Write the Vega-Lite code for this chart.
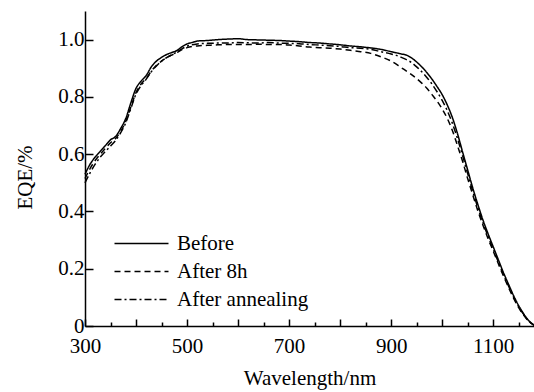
{
  "$schema": "https://vega.github.io/schema/vega-lite/v6.json",
  "autosize": {"type": "none"},
  "padding": {"left": 85, "top": 11, "right": 0, "bottom": 66},
  "width": 449,
  "height": 315,
  "background": "white",
  "config": {
    "font": "Liberation Serif, Times New Roman, serif",
    "view": {"stroke": null},
    "axis": {
      "domainColor": "black", "domainWidth": 1.5, "tickColor": "black", "tickWidth": 1.5,
      "labelColor": "black", "labelFontSize": 21, "titleFontSize": 21, "titleFontWeight": "normal",
      "labelFont": "Liberation Serif, Times New Roman, serif", "titleFont": "Liberation Serif, Times New Roman, serif",
      "titleColor": "black", "grid": false
    },
    "legend": {
      "labelFont": "Liberation Serif, Times New Roman, serif",
      "labelFontSize": 21, "labelColor": "black", "symbolType": "M-5,0H1", "symbolSize": 324,
      "symbolStrokeWidth": 1.5, "symbolStrokeColor": "black", "symbolFillColor": "transparent", "labelOffset": 7, "rowPadding": 6
    }
  },
  "datasets": {
    "curves": [
      {"x":300,"y":0.53,"s":"Before"},{"x":310,"y":0.565,"s":"Before"},{"x":320,"y":0.59,"s":"Before"},{"x":330,"y":0.61,"s":"Before"},{"x":340,"y":0.63,"s":"Before"},{"x":350,"y":0.65,"s":"Before"},{"x":360,"y":0.662,"s":"Before"},{"x":370,"y":0.69,"s":"Before"},{"x":380,"y":0.725,"s":"Before"},{"x":390,"y":0.78,"s":"Before"},{"x":400,"y":0.83,"s":"Before"},{"x":410,"y":0.855,"s":"Before"},{"x":420,"y":0.875,"s":"Before"},{"x":430,"y":0.905,"s":"Before"},{"x":440,"y":0.925,"s":"Before"},{"x":450,"y":0.938,"s":"Before"},{"x":460,"y":0.948,"s":"Before"},{"x":470,"y":0.955,"s":"Before"},{"x":480,"y":0.962,"s":"Before"},{"x":490,"y":0.975,"s":"Before"},{"x":500,"y":0.985,"s":"Before"},{"x":510,"y":0.99,"s":"Before"},{"x":520,"y":0.995,"s":"Before"},{"x":540,"y":0.997,"s":"Before"},{"x":560,"y":1.0,"s":"Before"},{"x":580,"y":1.002,"s":"Before"},{"x":600,"y":1.003,"s":"Before"},{"x":620,"y":1.0,"s":"Before"},{"x":640,"y":0.999,"s":"Before"},{"x":660,"y":0.998,"s":"Before"},{"x":680,"y":0.997,"s":"Before"},{"x":700,"y":0.995,"s":"Before"},{"x":720,"y":0.993,"s":"Before"},{"x":740,"y":0.99,"s":"Before"},{"x":760,"y":0.988,"s":"Before"},{"x":780,"y":0.985,"s":"Before"},{"x":800,"y":0.982,"s":"Before"},{"x":820,"y":0.978,"s":"Before"},{"x":840,"y":0.975,"s":"Before"},{"x":860,"y":0.971,"s":"Before"},{"x":880,"y":0.966,"s":"Before"},{"x":900,"y":0.958,"s":"Before"},{"x":910,"y":0.954,"s":"Before"},{"x":920,"y":0.95,"s":"Before"},{"x":930,"y":0.946,"s":"Before"},{"x":940,"y":0.936,"s":"Before"},{"x":950,"y":0.922,"s":"Before"},{"x":960,"y":0.905,"s":"Before"},{"x":970,"y":0.885,"s":"Before"},{"x":980,"y":0.862,"s":"Before"},{"x":990,"y":0.836,"s":"Before"},{"x":1000,"y":0.808,"s":"Before"},{"x":1010,"y":0.772,"s":"Before"},{"x":1020,"y":0.728,"s":"Before"},{"x":1030,"y":0.672,"s":"Before"},{"x":1040,"y":0.608,"s":"Before"},{"x":1050,"y":0.545,"s":"Before"},{"x":1060,"y":0.482,"s":"Before"},{"x":1070,"y":0.424,"s":"Before"},{"x":1080,"y":0.37,"s":"Before"},{"x":1090,"y":0.322,"s":"Before"},{"x":1100,"y":0.277,"s":"Before"},{"x":1110,"y":0.232,"s":"Before"},{"x":1120,"y":0.187,"s":"Before"},{"x":1130,"y":0.146,"s":"Before"},{"x":1140,"y":0.106,"s":"Before"},{"x":1150,"y":0.071,"s":"Before"},{"x":1160,"y":0.042,"s":"Before"},{"x":1170,"y":0.018,"s":"Before"},{"x":1180,"y":0.003,"s":"Before"},

      {"x":300,"y":0.515,"s":"After 8h"},{"x":310,"y":0.55,"s":"After 8h"},{"x":320,"y":0.578,"s":"After 8h"},{"x":330,"y":0.6,"s":"After 8h"},{"x":340,"y":0.62,"s":"After 8h"},{"x":350,"y":0.64,"s":"After 8h"},{"x":360,"y":0.655,"s":"After 8h"},{"x":370,"y":0.68,"s":"After 8h"},{"x":380,"y":0.715,"s":"After 8h"},{"x":390,"y":0.765,"s":"After 8h"},{"x":400,"y":0.815,"s":"After 8h"},{"x":410,"y":0.845,"s":"After 8h"},{"x":420,"y":0.865,"s":"After 8h"},{"x":430,"y":0.89,"s":"After 8h"},{"x":440,"y":0.91,"s":"After 8h"},{"x":450,"y":0.925,"s":"After 8h"},{"x":460,"y":0.937,"s":"After 8h"},{"x":470,"y":0.946,"s":"After 8h"},{"x":480,"y":0.955,"s":"After 8h"},{"x":490,"y":0.965,"s":"After 8h"},{"x":500,"y":0.972,"s":"After 8h"},{"x":520,"y":0.978,"s":"After 8h"},{"x":540,"y":0.98,"s":"After 8h"},{"x":560,"y":0.982,"s":"After 8h"},{"x":580,"y":0.983,"s":"After 8h"},{"x":600,"y":0.983,"s":"After 8h"},{"x":620,"y":0.983,"s":"After 8h"},{"x":640,"y":0.984,"s":"After 8h"},{"x":660,"y":0.983,"s":"After 8h"},{"x":680,"y":0.983,"s":"After 8h"},{"x":700,"y":0.981,"s":"After 8h"},{"x":720,"y":0.978,"s":"After 8h"},{"x":740,"y":0.974,"s":"After 8h"},{"x":760,"y":0.972,"s":"After 8h"},{"x":780,"y":0.97,"s":"After 8h"},{"x":800,"y":0.967,"s":"After 8h"},{"x":820,"y":0.963,"s":"After 8h"},{"x":840,"y":0.958,"s":"After 8h"},{"x":860,"y":0.952,"s":"After 8h"},{"x":880,"y":0.94,"s":"After 8h"},{"x":900,"y":0.925,"s":"After 8h"},{"x":920,"y":0.902,"s":"After 8h"},{"x":940,"y":0.878,"s":"After 8h"},{"x":960,"y":0.848,"s":"After 8h"},{"x":970,"y":0.83,"s":"After 8h"},{"x":980,"y":0.808,"s":"After 8h"},{"x":990,"y":0.785,"s":"After 8h"},{"x":1000,"y":0.758,"s":"After 8h"},{"x":1010,"y":0.725,"s":"After 8h"},{"x":1020,"y":0.683,"s":"After 8h"},{"x":1030,"y":0.63,"s":"After 8h"},{"x":1040,"y":0.575,"s":"After 8h"},{"x":1050,"y":0.515,"s":"After 8h"},{"x":1060,"y":0.458,"s":"After 8h"},{"x":1070,"y":0.402,"s":"After 8h"},{"x":1080,"y":0.352,"s":"After 8h"},{"x":1090,"y":0.305,"s":"After 8h"},{"x":1100,"y":0.262,"s":"After 8h"},{"x":1110,"y":0.218,"s":"After 8h"},{"x":1120,"y":0.175,"s":"After 8h"},{"x":1130,"y":0.135,"s":"After 8h"},{"x":1140,"y":0.097,"s":"After 8h"},{"x":1150,"y":0.064,"s":"After 8h"},{"x":1160,"y":0.037,"s":"After 8h"},{"x":1170,"y":0.016,"s":"After 8h"},{"x":1180,"y":0.003,"s":"After 8h"},

      {"x":300,"y":0.5,"s":"After annealing"},{"x":310,"y":0.535,"s":"After annealing"},{"x":320,"y":0.565,"s":"After annealing"},{"x":330,"y":0.59,"s":"After annealing"},{"x":340,"y":0.61,"s":"After annealing"},{"x":350,"y":0.628,"s":"After annealing"},{"x":360,"y":0.648,"s":"After annealing"},{"x":370,"y":0.675,"s":"After annealing"},{"x":380,"y":0.71,"s":"After annealing"},{"x":390,"y":0.76,"s":"After annealing"},{"x":400,"y":0.81,"s":"After annealing"},{"x":410,"y":0.84,"s":"After annealing"},{"x":420,"y":0.862,"s":"After annealing"},{"x":430,"y":0.888,"s":"After annealing"},{"x":440,"y":0.908,"s":"After annealing"},{"x":450,"y":0.925,"s":"After annealing"},{"x":460,"y":0.937,"s":"After annealing"},{"x":470,"y":0.947,"s":"After annealing"},{"x":480,"y":0.957,"s":"After annealing"},{"x":490,"y":0.968,"s":"After annealing"},{"x":500,"y":0.977,"s":"After annealing"},{"x":520,"y":0.985,"s":"After annealing"},{"x":540,"y":0.987,"s":"After annealing"},{"x":560,"y":0.988,"s":"After annealing"},{"x":580,"y":0.988,"s":"After annealing"},{"x":600,"y":0.99,"s":"After annealing"},{"x":620,"y":0.989,"s":"After annealing"},{"x":640,"y":0.988,"s":"After annealing"},{"x":660,"y":0.99,"s":"After annealing"},{"x":680,"y":0.988,"s":"After annealing"},{"x":700,"y":0.987,"s":"After annealing"},{"x":720,"y":0.986,"s":"After annealing"},{"x":740,"y":0.983,"s":"After annealing"},{"x":760,"y":0.981,"s":"After annealing"},{"x":780,"y":0.979,"s":"After annealing"},{"x":800,"y":0.976,"s":"After annealing"},{"x":820,"y":0.972,"s":"After annealing"},{"x":840,"y":0.97,"s":"After annealing"},{"x":860,"y":0.966,"s":"After annealing"},{"x":880,"y":0.958,"s":"After annealing"},{"x":900,"y":0.95,"s":"After annealing"},{"x":910,"y":0.945,"s":"After annealing"},{"x":920,"y":0.938,"s":"After annealing"},{"x":930,"y":0.93,"s":"After annealing"},{"x":940,"y":0.92,"s":"After annealing"},{"x":950,"y":0.905,"s":"After annealing"},{"x":960,"y":0.888,"s":"After annealing"},{"x":970,"y":0.868,"s":"After annealing"},{"x":980,"y":0.845,"s":"After annealing"},{"x":990,"y":0.818,"s":"After annealing"},{"x":1000,"y":0.788,"s":"After annealing"},{"x":1010,"y":0.752,"s":"After annealing"},{"x":1020,"y":0.708,"s":"After annealing"},{"x":1030,"y":0.655,"s":"After annealing"},{"x":1040,"y":0.595,"s":"After annealing"},{"x":1050,"y":0.532,"s":"After annealing"},{"x":1060,"y":0.47,"s":"After annealing"},{"x":1070,"y":0.413,"s":"After annealing"},{"x":1080,"y":0.36,"s":"After annealing"},{"x":1090,"y":0.313,"s":"After annealing"},{"x":1100,"y":0.268,"s":"After annealing"},{"x":1110,"y":0.224,"s":"After annealing"},{"x":1120,"y":0.18,"s":"After annealing"},{"x":1130,"y":0.14,"s":"After annealing"},{"x":1140,"y":0.101,"s":"After annealing"},{"x":1150,"y":0.067,"s":"After annealing"},{"x":1160,"y":0.04,"s":"After annealing"},{"x":1170,"y":0.017,"s":"After annealing"},{"x":1180,"y":0.003,"s":"After annealing"}
    ]
  },
  "layer": [
    {
      "data": {"name": "curves"},
      "mark": {"type": "line", "color": "black", "strokeWidth": 1.5, "interpolate": "monotone"},
      "encoding": {
        "x": {
          "field": "x", "type": "quantitative",
          "scale": {"domain": [300, 1180], "nice": false, "zero": false},
          "axis": {
            "title": "Wavelength/nm",
            "values": [300,350,400,450,500,550,600,650,700,750,800,850,900,950,1000,1050,1100,1150],
            "labelExpr": "(datum.value - 300) % 200 === 0 ? datum.value : ''",
            "tickSize": {"condition": {"test": "datum.value % 100 === 0", "value": -7}, "value": -4},
            "labelPadding": 16,
            "titlePadding": 11,
            "labelFlush": false
          }
        },
        "y": {
          "field": "y", "type": "quantitative",
          "scale": {"domain": [0, 1.1], "nice": false},
          "axis": {
            "title": "EQE/%",
            "values": [0,0.1,0.2,0.3,0.4,0.5,0.6,0.7,0.8,0.9,1.0],
            "labelExpr": "datum.value === 0 ? '0' : (round(datum.value*10) % 2 === 0 ? format(datum.value, '.1f') : '')",
            "tickSize": {"condition": {"test": "round(datum.value*10) % 2 === 0", "value": -8}, "value": -5},
            "labelPadding": 9,
            "titlePadding": 22,
            "titleY": 166,
            "labelFlush": false
          }
        },
        "strokeDash": {
          "field": "s", "type": "nominal",
          "scale": {"domain": ["Before", "After 8h", "After annealing"], "range": [[1, 0], [6, 4], [7, 3, 2, 3]]},
          "legend": {"title": null, "orient": "none", "legendX": 64, "legendY": 222}
        }
      }
    },
    {
      "mark": {"type": "rule", "color": "black", "strokeWidth": 1.5},
      "encoding": {"y": {"datum": 1.1}}
    }
  ]
}
